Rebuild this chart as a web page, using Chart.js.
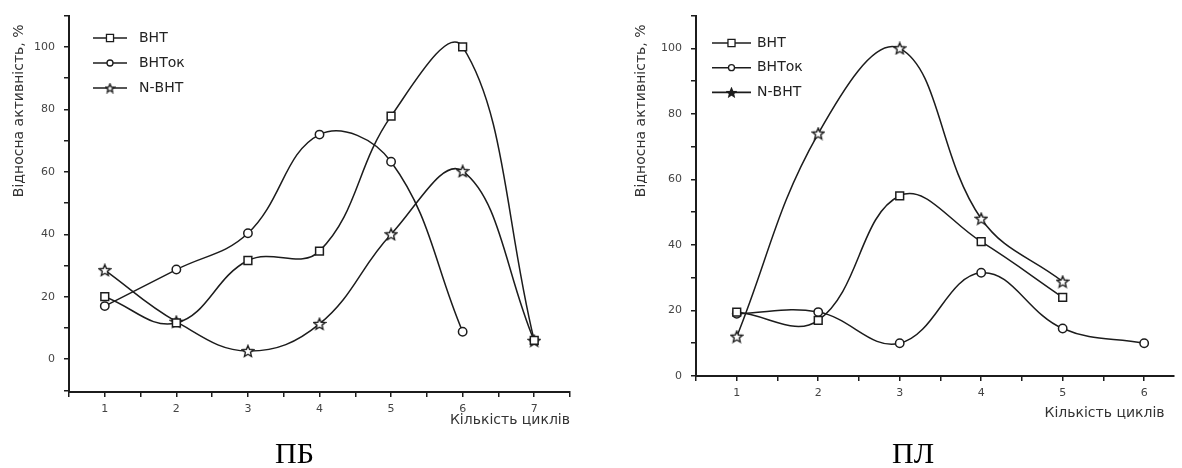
<!DOCTYPE html>
<html><head><meta charset="utf-8">
<script src="https://cdn.jsdelivr.net/npm/chart.js@4"></script>
<style>
body{margin:0;background:#fff;width:1182px;height:468px;overflow:hidden;position:relative}
canvas{position:absolute;top:0}
#c1{left:0} #c2{left:600px}
.cap{position:absolute;font-family:"Liberation Serif","Times New Roman",serif;font-size:30px;color:#000;top:436px;line-height:34px}
</style></head><body>
<canvas id="c1" width="600" height="468"></canvas>
<canvas id="c2" width="582" height="468"></canvas>
<div class="cap" id="cap1" style="left:275px"></div>
<div class="cap" id="cap2" style="left:892px"></div>
<script>
// ---- data ----
const seriesNames = ['ВНТ', 'ВНТок', 'N-ВНТ'];
const panelNames = ['ПБ', 'ПЛ'];
const yTitle = 'Відносна активність, %';
const xTitle = 'Кількість циклів';

const pbCycles = [1, 2, 3, 4, 5, 6, 7];
const pbBHT    = [20, 11.6, 31.6, 34.6, 77.8, 100, 6];
const pbBHTok  = [17, 28.7, 40.3, 71.9, 63.2, 8.8];
const pbNBHT   = [28.5, 12, 2.6, 11.3, 40, 60.2, 5.9];

const plCycles = [1, 2, 3, 4, 5, 6];
const plBHT    = [19.5, 17, 55, 41, 24];
const plBHTok  = [19, 19.5, 10, 31.5, 14.5, 10];
const plNBHT   = [12, 74, 100, 48, 28.8];

document.getElementById('cap1').textContent = panelNames[0];
document.getElementById('cap2').textContent = panelNames[1];

const INK = '#1c1c1c';

function makeStar(size, filled) {
  const c = document.createElement('canvas'); c.width = c.height = size;
  const g = c.getContext('2d');
  const cx = size / 2, cy = size / 2 + 0.5, R = size / 2 - 1, r = R * 0.45;
  g.beginPath();
  for (let i = 0; i < 10; i++) {
    const a = -Math.PI / 2 + i * Math.PI / 5, rr = i % 2 ? r : R;
    g.lineTo(cx + rr * Math.cos(a), cy + rr * Math.sin(a));
  }
  g.closePath();
  g.fillStyle = filled ? INK : '#fff'; g.fill();
  g.lineWidth = 1.4; g.strokeStyle = INK; g.stroke();
  return c;
}
const starBig = makeStar(14, false);
const starSmall = makeStar(11, false);
const starSmallFilled = makeStar(11, true);

function ds(label, xs, ys, style, radius, legendStyle, legendR) {
  return {
    label,
    data: ys.map((v, i) => ({x: xs[i], y: v})),
    borderColor: INK, borderWidth: 1.5, tension: 0.4, fill: false, clip: false,
    pointStyle: style, pointRadius: radius, pointHoverRadius: radius,
    pointBackgroundColor: '#fff', pointBorderColor: INK, pointBorderWidth: 1.5,
    legendStyle, legendR
  };
}

const insideLegend = {
  id: 'insideLegend',
  afterDatasetsDraw(chart, args, o) {
    const ctx = chart.ctx; ctx.save();
    chart.data.datasets.forEach((d, i) => {
      const y = o.y + i * o.dy;
      ctx.strokeStyle = INK; ctx.lineWidth = 1.6;
      ctx.beginPath(); ctx.moveTo(o.x, y); ctx.lineTo(o.x + o.len, y); ctx.stroke();
      ctx.fillStyle = '#fff'; ctx.strokeStyle = INK; ctx.lineWidth = 1.3;
      Chart.helpers.drawPoint(ctx, {pointStyle: d.legendStyle, radius: d.legendR, rotation: 0, borderWidth: 1.3}, o.x + o.len / 2, y);
      ctx.fillStyle = '#222'; ctx.font = o.font; ctx.textBaseline = 'middle'; ctx.textAlign = 'left';
      ctx.fillText(d.label, o.tx, y);
    });
    ctx.restore();
  }
};

const tickFont = {family: 'DejaVu Sans', size: 11};
const titleFont = {family: 'DejaVu Sans', size: 14};

function makeScales(p) {
  return {
    x: {
      type: 'linear', position: 'bottom', min: p.xmin, max: p.xmax,
      afterFit(s) { s.height = p.xH; },
      ticks: {stepSize: 0.5, autoSkip: false, maxRotation: 0, includeBounds: false,
              font: tickFont, color: '#444', padding: 6,
              callback: v => Number.isInteger(v) ? String(v) : ''},
      grid: {drawOnChartArea: false, drawTicks: true, tickLength: 5, color: INK, lineWidth: 1.5},
      border: {display: true, color: INK, width: 2},
      title: {display: true, text: p.xt, align: 'end', font: titleFont, color: '#333', padding: {top: 0, bottom: p.xtPad}}
    },
    y: {
      type: 'linear', position: 'left', min: p.ymin, max: p.ymax,
      afterFit(s) { s.width = p.yW; },
      ticks: {stepSize: 10, autoSkip: false, includeBounds: false, font: tickFont, color: '#444', padding: 9,
              callback: v => (Math.round(v) % 20 === 0) ? String(Math.round(v)) : ''},
      grid: {drawOnChartArea: false, drawTicks: true, tickLength: 5, color: INK, lineWidth: 1.5},
      border: {display: true, color: INK, width: 2},
      title: {display: true, text: yTitle + '  ', align: 'end', font: titleFont, color: '#333', padding: {top: p.ytPad, bottom: 0}}
    }
  };
}

new Chart(document.getElementById('c1'), {
  type: 'line',
  data: {datasets: [
    ds(seriesNames[0], pbCycles, pbBHT, 'rect', 5.5, 'rect', 5),
    ds(seriesNames[1], pbCycles, pbBHTok, 'circle', 4.2, 'circle', 3),
    ds(seriesNames[2], pbCycles, pbNBHT, starBig, 7, starSmall, 5)
  ]},
  options: {
    responsive: false, animation: false, devicePixelRatio: 1,
    layout: {padding: {left: 0, top: 15, right: 30, bottom: 36}},
    scales: makeScales({xmin: 0.5, xmax: 7.5, ymin: -10.5, ymax: 110, yW: 69, xH: 40, xt: xTitle, xtPad: 3, ytPad: 11}),
    plugins: {legend: {display: false}, tooltip: {enabled: false},
      insideLegend: {x: 93, len: 34, tx: 139, y: 38, dy: 25, font: '14px "DejaVu Sans"'}}
  },
  plugins: [insideLegend]
});

new Chart(document.getElementById('c2'), {
  type: 'line',
  data: {datasets: [
    ds(seriesNames[0], plCycles, plBHT, 'rect', 5.5, 'rect', 5),
    ds(seriesNames[1], plCycles, plBHTok, 'circle', 4.2, 'circle', 3),
    ds(seriesNames[2], plCycles, plNBHT, starBig, 7, starSmallFilled, 5)
  ]},
  options: {
    responsive: false, animation: false, devicePixelRatio: 1,
    layout: {padding: {left: 0, top: 14, right: 0, bottom: 42}},
    scales: makeScales({xmin: 0.5, xmax: 6.36, ymin: 0, ymax: 110, yW: 96, xH: 50, xt: xTitle + '  ', xtPad: 4, ytPad: 33}),
    plugins: {legend: {display: false}, tooltip: {enabled: false},
      insideLegend: {x: 112, len: 39, tx: 157, y: 43, dy: 24.7, font: '14px "DejaVu Sans"'}}
  },
  plugins: [insideLegend]
});
</script>
</body></html>
